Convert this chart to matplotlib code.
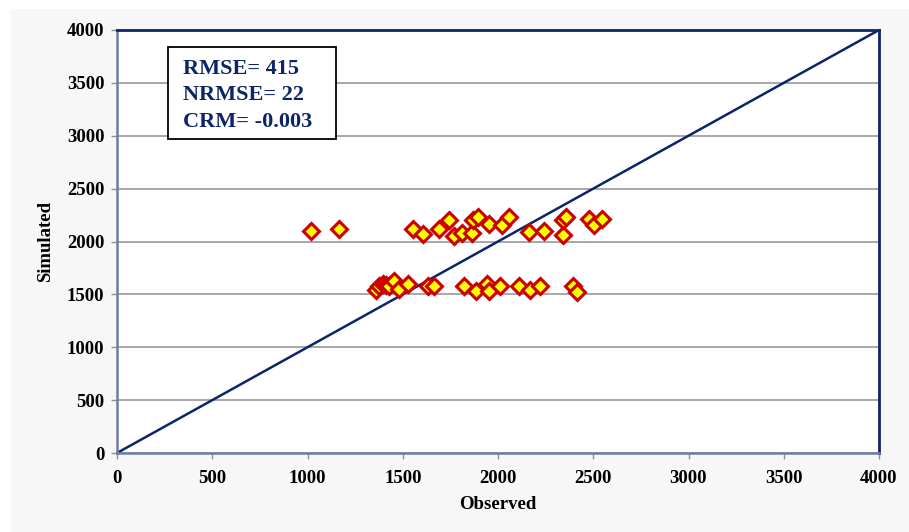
import matplotlib
matplotlib.use("Agg")
import matplotlib.pyplot as plt
from matplotlib.patches import Rectangle

# Observed vs simulated values
observed = [1020, 1165, 1555, 1608, 1690, 1745, 1770, 1812, 1862, 1870, 1893,
            1952, 2022, 2056, 2164, 2243, 2340, 2343, 2357, 2476, 2506, 2544,
            1360, 1375, 1395, 1410, 1430, 1455, 1480, 1530, 1634, 1662, 1822,
            1883, 1941, 1954, 2010, 2112, 2168, 2220, 2392, 2416]
simulated = [2100, 2115, 2115, 2068, 2118, 2200, 2055, 2085, 2085, 2200, 2235,
             2165, 2160, 2235, 2093, 2099, 2059, 2205, 2230, 2210, 2160, 2212,
             1545, 1580, 1600, 1590, 1575, 1625, 1555, 1598, 1576, 1580, 1580,
             1530, 1595, 1528, 1580, 1580, 1538, 1576, 1576, 1520]
one_to_one = [0, 4000]
ticks = [0, 500, 1000, 1500, 2000, 2500, 3000, 3500, 4000]
stats_lines = ["RMSE= 415", "NRMSE= 22", "CRM= -0.003"]

navy = "#0c2468"
serif = ["Liberation Serif", "DejaVu Serif"]

fig = plt.figure(figsize=(9.09, 5.32), dpi=100, facecolor="white")
fig.patches.append(Rectangle((11 / 909, 0), 1 - 11 / 909, 1 - 9 / 532,
                             transform=fig.transFigure, facecolor="#f7f7f7",
                             edgecolor="none", zorder=-10))

ax = fig.add_axes([117 / 909, 79 / 532, 762 / 909, 423 / 532])
ax.set_zorder(1)
ax.set_facecolor("white")
ax.set_xlim(0, 4000)
ax.set_ylim(0, 4000)
ax.set_xticks(ticks)
ax.set_yticks(ticks)
ax.yaxis.grid(True, color="#a0a0a0", linewidth=1.3)
ax.set_axisbelow(True)

ax.plot(one_to_one, one_to_one, color=navy, linewidth=1.8, zorder=2)
ax.plot(observed, simulated, linestyle="none", marker="D", markersize=8.5,
        markerfacecolor="#ffff00", markeredgecolor="#cc0000",
        markeredgewidth=2.2, zorder=3, clip_on=False)

for side in ("top", "right"):
    ax.spines[side].set_color(navy)
    ax.spines[side].set_linewidth(2.0)
for side in ("left", "bottom"):
    ax.spines[side].set_color("#6f7fa3")
    ax.spines[side].set_linewidth(1.8)

ax.tick_params(axis="both", direction="out", length=4, width=1,
               color="#909090", pad=5)
for lab in ax.get_xticklabels() + ax.get_yticklabels():
    lab.set_fontfamily(serif)
    lab.set_fontweight("bold")
    lab.set_fontsize(13.5)
ax.tick_params(axis="x", pad=8)

ax.set_xlabel("Observed", fontfamily=serif, fontweight="bold",
              fontsize=13.5, labelpad=7)
ax.set_ylabel("Simulated", fontfamily=serif, fontweight="bold",
              fontsize=13.5, labelpad=9)

# Statistics box
ax.add_patch(Rectangle((0.0669, 0.7423), 0.2205, 0.2175,
                       transform=ax.transAxes, facecolor="white",
                       edgecolor="black", linewidth=1.3, zorder=5))
for i, line in enumerate(stats_lines):
    ax.text(0.0866, 0.9078 - i * 0.0626, line, transform=ax.transAxes,
            ha="left", va="center", fontfamily=serif, fontweight="bold",
            fontsize=16, color=navy, zorder=6)

fig.savefig("out.png", dpi=100, facecolor=fig.get_facecolor())
